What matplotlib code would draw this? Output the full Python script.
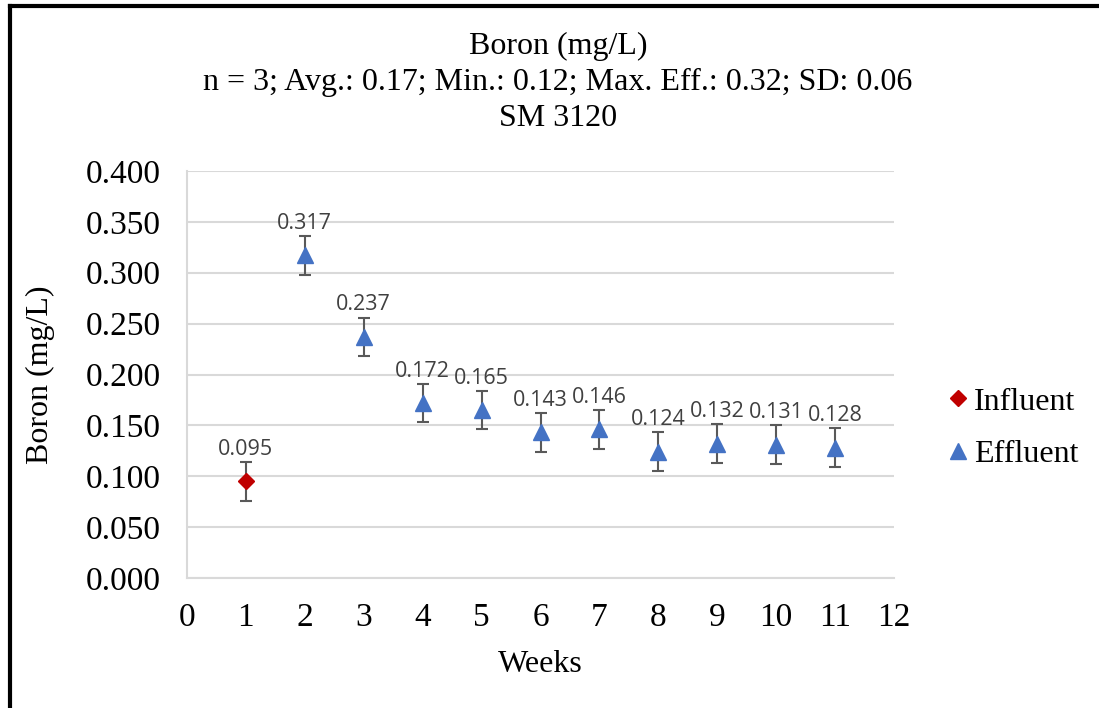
import matplotlib
matplotlib.use("Agg")
import matplotlib.pyplot as plt
from matplotlib.lines import Line2D

# Weekly boron results (mg/L)
influent_weeks = [1]
influent_values = [0.095]
effluent_weeks = [2, 3, 4, 5, 6, 7, 8, 9, 10, 11]
effluent_values = [0.317, 0.237, 0.172, 0.165, 0.143, 0.146, 0.124, 0.132, 0.131, 0.128]
error_value = 0.019

x_ticks = list(range(0, 13))
y_ticks = [0.0, 0.05, 0.10, 0.15, 0.20, 0.25, 0.30, 0.35, 0.40]

title_lines = ["Boron (mg/L)",
               "n = 3; Avg.: 0.17; Min.: 0.12; Max. Eff.: 0.32; SD: 0.06",
               "SM 3120"]

serif = "Liberation Serif"
label_font = "Open Sans"
red = "#c00000"
blue = "#4472c4"
grid_c = "#d9d9d9"
err_c = "#595959"
text_c = "#404040"

fig = plt.figure(figsize=(10.99, 7.08), dpi=100)
ax = fig.add_axes([187 / 1099, 1 - 578 / 708, (894 - 187) / 1099, (578 - 171) / 708])

err_kw = dict(ecolor=err_c, elinewidth=1.5, capsize=4, capthick=1.5, linestyle="none", zorder=3)
ax.errorbar(influent_weeks, influent_values, yerr=error_value, marker="D", ms=8,
            mfc=red, mec=red, **err_kw)
ax.errorbar(effluent_weeks, effluent_values, yerr=error_value, marker="^", ms=11,
            mfc=blue, mec=blue, **err_kw)

for xs, ys in ((influent_weeks, influent_values), (effluent_weeks, effluent_values)):
    for x, y in zip(xs, ys):
        ax.annotate(f"{y:.3f}", (x, y), xytext=(0, 23), textcoords="offset points",
                    ha="center", va="center", fontsize=15.5, family=label_font, color=text_c)

ax.set_xlim(0, 12)
ax.set_ylim(0, 0.4)
ax.set_xticks(x_ticks)
ax.set_yticks(y_ticks)
ax.set_yticklabels([f"{v:.3f}" for v in y_ticks])
ax.tick_params(length=0, labelsize=24)
ax.tick_params(axis="y", pad=19)
ax.tick_params(axis="x", pad=18)
for lab in ax.get_xticklabels() + ax.get_yticklabels():
    lab.set_family(serif)
    lab.set_color("black")
ax.grid(axis="y", color=grid_c, linewidth=1.5)
ax.set_axisbelow(True)
for s in ("top", "right"):
    ax.spines[s].set_visible(False)
for s in ("left", "bottom"):
    ax.spines[s].set_color(grid_c)
    ax.spines[s].set_linewidth(1.5)

ax.set_xlabel("Weeks", family=serif, fontsize=23, labelpad=12)
ax.set_ylabel("Boron (mg/L)", family=serif, fontsize=23, labelpad=22)

for i, line in enumerate(title_lines):
    fig.text(558 / 1099, 1 - (46.5 + 36 * i) / 708, line, ha="center", va="center",
             family=serif, fontsize=23)

handles = [Line2D([], [], marker="D", ms=8, color=red, linestyle="none"),
           Line2D([], [], marker="^", ms=11, color=blue, linestyle="none")]
leg = fig.legend(handles, ["Influent", "Effluent"], loc="center left",
                 bbox_to_anchor=(920 / 1099, 1 - 428 / 708), frameon=False,
                 prop={"family": serif, "size": 23}, handlelength=0.6,
                 handletextpad=0.18, labelspacing=0.72)

# Outer frame along the top and left edges
fig.add_artist(Line2D([9.5 / 1099, 1], [1 - 6 / 708, 1 - 6 / 708], color="black", lw=3,
                      transform=fig.transFigure))
fig.add_artist(Line2D([9.5 / 1099, 9.5 / 1099], [0, 1 - 6 / 708], color="black", lw=3,
                      transform=fig.transFigure))

fig.savefig("out.png", dpi=100, facecolor="white")
